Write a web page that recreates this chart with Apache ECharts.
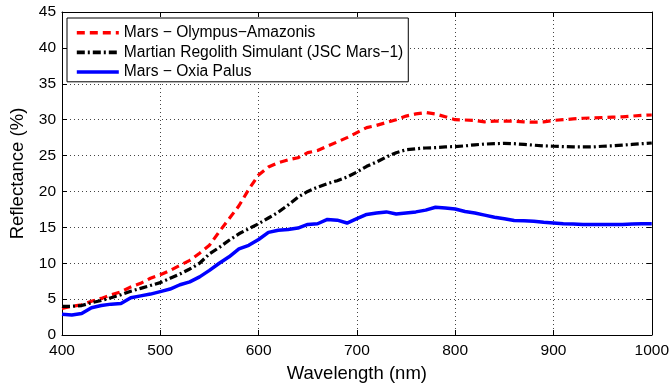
<!DOCTYPE html>
<html><head><meta charset="utf-8">
<script src="https://cdn.jsdelivr.net/npm/echarts@6/dist/echarts.min.js"></script>
<style>html,body{margin:0;padding:0;background:#fff}#c{width:672px;height:388px}</style>
</head><body><div id="c"></div>
<script>
const wavelengths = [400,410,420,430,440,450,460,470,480,490,500,510,520,530,540,550,560,570,580,590,600,610,620,630,640,650,660,670,680,690,700,710,720,730,740,750,760,770,780,790,800,810,820,830,840,850,860,870,880,890,900,910,920,930,940,950,960,970,980,990,1000];
const olympusAmazonis = [3.7,4.0,4.2,4.7,5.1,5.6,6.0,6.7,7.2,7.9,8.4,9.0,9.7,10.4,11.4,12.5,14.4,16.2,18.0,20.3,22.3,23.4,24.0,24.4,24.7,25.4,25.7,26.3,26.9,27.5,28.2,28.9,29.2,29.6,30.0,30.5,30.8,31.0,30.8,30.4,30.0,29.95,29.9,29.7,29.8,29.8,29.8,29.7,29.65,29.7,29.9,30.0,30.1,30.2,30.25,30.3,30.35,30.4,30.5,30.6,30.65];
const jscMars1 = [4.0,4.0,4.1,4.5,4.8,5.2,5.6,6.1,6.5,6.9,7.3,7.9,8.5,9.2,10.0,11.3,12.2,13.2,14.1,14.8,15.5,16.3,17.1,18.1,19.2,20.0,20.6,21.1,21.5,22.0,22.7,23.5,24.1,24.8,25.4,25.8,25.95,26.05,26.1,26.2,26.25,26.35,26.5,26.6,26.65,26.7,26.65,26.55,26.45,26.35,26.3,26.25,26.2,26.2,26.2,26.3,26.35,26.45,26.55,26.65,26.75];
const oxiaPalus = [2.9,2.8,3.0,3.8,4.1,4.3,4.4,5.2,5.45,5.7,6.05,6.4,7.0,7.4,8.1,9.0,10.0,10.9,12.0,12.5,13.3,14.3,14.6,14.7,14.9,15.4,15.5,16.1,16.0,15.6,16.2,16.8,17.0,17.15,16.85,17.0,17.15,17.4,17.8,17.7,17.55,17.2,17.0,16.7,16.4,16.2,15.95,15.9,15.85,15.7,15.6,15.5,15.45,15.4,15.4,15.4,15.4,15.4,15.45,15.5,15.5];
const seriesNames = ['Mars \u2212 Olympus\u2212Amazonis','Martian Regolith Simulant (JSC Mars\u22121)','Mars \u2212 Oxia Palus'];
const xTicks = {min:400, max:1000, interval:100};
const yTicks = {min:0, max:45, interval:5};

const pair = arr => wavelengths.map((w,i)=>[w,arr[i]]);
const font = 'Liberation Sans, Arial, Helvetica, sans-serif';
const chart = echarts.init(document.getElementById('c'), null, {renderer:'canvas'});
const gridLine = {show:true, lineStyle:{color:'#444', type:[1,3], width:1}};
const axLine = {show:true, onZero:false, lineStyle:{color:'#000', width:1}};
const tick = {show:true, inside:true, length:5, lineStyle:{color:'#000'}};
chart.setOption({
  animation:false,
  backgroundColor:'#fff',
  grid:{left:62, right:18, top:12, bottom:51},
  legend:{
    orient:'vertical', left:67, top:18,
    data:seriesNames,
    backgroundColor:'#fff', borderColor:'#000', borderWidth:1, borderRadius:0,
    padding:[5,5,0,8], itemGap:0, itemWidth:42, itemHeight:14,
    itemStyle:{opacity:0},
    lineStyle:{width:3.6},
    textStyle:{fontFamily:font, fontSize:15.6, color:'#000', lineHeight:19.6}
  },
  xAxis:[
    {type:'value', min:xTicks.min, max:xTicks.max, interval:xTicks.interval,
     name:'Wavelength (nm)', nameLocation:'middle', nameGap:29,
     nameTextStyle:{fontFamily:font, fontSize:18.5, color:'#000'},
     axisLine:axLine, axisTick:tick, splitLine:gridLine,
     axisLabel:{fontFamily:font, fontSize:15.5, color:'#000', margin:8, formatter:v=>String(v)}},
    {type:'value', position:'top', min:xTicks.min, max:xTicks.max, interval:xTicks.interval,
     axisLine:axLine, axisTick:tick, splitLine:{show:false}, axisLabel:{show:false}}
  ],
  yAxis:[
    {type:'value', min:yTicks.min, max:yTicks.max, interval:yTicks.interval,
     name:'Reflectance (%)', nameLocation:'middle', nameGap:27,
     nameTextStyle:{fontFamily:font, fontSize:18.5, color:'#000'},
     axisLine:axLine, axisTick:tick, splitLine:gridLine,
     axisLabel:{fontFamily:font, fontSize:15.5, color:'#000', margin:6, formatter:v=>String(v)}},
    {type:'value', position:'right', min:yTicks.min, max:yTicks.max, interval:yTicks.interval,
     axisLine:axLine, axisTick:tick, splitLine:{show:false}, axisLabel:{show:false}}
  ],
  series:[
    {name:seriesNames[0], type:'line', data:pair(olympusAmazonis), showSymbol:false, symbol:'none',
     lineStyle:{color:'#ff0000', width:3.2, type:[8,5]}, itemStyle:{color:'#ff0000'}},
    {name:seriesNames[1], type:'line', data:pair(jscMars1), showSymbol:false, symbol:'none',
     lineStyle:{color:'#000', width:3.2, type:[8,3,2,3]}, itemStyle:{color:'#000'}},
    {name:seriesNames[2], type:'line', data:pair(oxiaPalus), showSymbol:false, symbol:'none',
     lineStyle:{color:'#0000ff', width:3.5}, itemStyle:{color:'#0000ff'}}
  ]
});
</script></body></html>
